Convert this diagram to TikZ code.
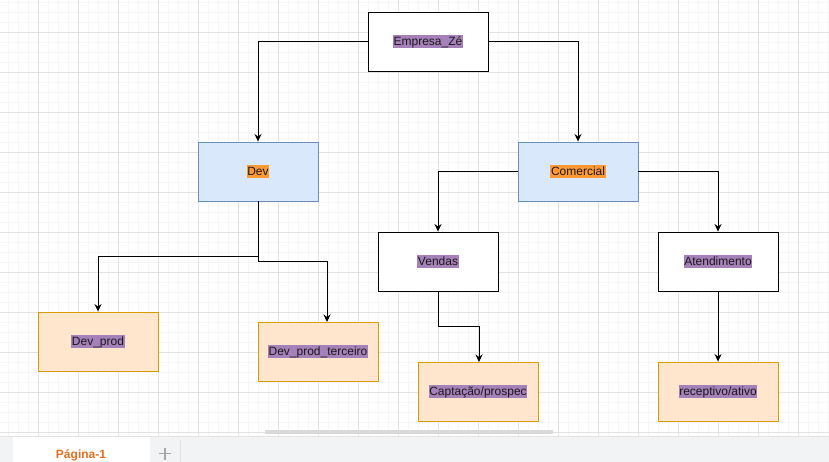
\documentclass[tikz,border=0pt]{standalone}
\usepackage{fontspec}
\setmainfont{Liberation Sans}
\usetikzlibrary{arrows.meta}
\definecolor{hlpurple}{HTML}{A680B8}
\definecolor{hlorange}{HTML}{FF9933}
\definecolor{bluefill}{HTML}{DAE8FC}
\definecolor{bluedraw}{HTML}{6C8EBF}
\definecolor{orfill}{HTML}{FFE6CC}
\definecolor{ordraw}{HTML}{D79B00}
\definecolor{gridmajor}{HTML}{E2E2E2}
\definecolor{gridminor}{HTML}{F6F6F6}
\definecolor{barbg}{HTML}{F1F3F4}
\definecolor{tabtext}{HTML}{E07020}
\definecolor{txt}{HTML}{1A1A1A}
\newcommand{\hlP}[1]{{\setlength{\fboxsep}{0.6pt}\colorbox{hlpurple}{\vphantom{Äg}#1}}}
\newcommand{\hlO}[1]{{\setlength{\fboxsep}{0.6pt}\colorbox{hlorange}{\vphantom{Äg}#1}}}
\begin{document}
\begin{tikzpicture}[x=1pt,y=-1pt,
  box/.style={draw=black, fill=white, line width=0.9pt, minimum width=120pt, minimum height=59pt, inner sep=0pt, text=txt, font=\fontsize{12}{14}\selectfont},
  bluebox/.style={box, draw=bluedraw, fill=bluefill},
  orbox/.style={box, draw=ordraw, fill=orfill},
  conn/.style={draw=black, line width=0.9pt, -{Stealth[length=7.5pt,width=7pt]}}]
\useasboundingbox (0,0) rectangle (829,462);
\fill[white] (0,0) rectangle (829,437);
% grid
\foreach \x in {8,18,...,828} \draw[gridminor, line width=0.6pt] (\x,0) -- (\x,437);
\foreach \y in {2,12,...,436} \draw[gridminor, line width=0.6pt] (0,\y) -- (829,\y);
\foreach \x in {38,78,...,828} \draw[gridmajor, line width=0.8pt] (\x,0) -- (\x,437);
\foreach \y in {32,72,...,436} \draw[gridmajor, line width=0.8pt] (0,\y) -- (829,\y);
% nodes
\node[box] (emp) at (428,41.5) {\hlP{Empresa\_Zé}};
\node[bluebox] (dev) at (258,171.5) {\hlO{Dev}};
\node[bluebox] (com) at (578,171.5) {\hlO{Comercial}};
\node[box] (ven) at (438,261.5) {\hlP{Vendas}};
\node[box] (ate) at (718,261.5) {\hlP{Atendimento}};
\node[orbox] (dp) at (98,341.5) {\hlP{Dev\_prod}};
\node[orbox] (dpt) at (318,351.5) {\hlP{Dev\_prod\_terceiro}};
\node[orbox] (cap) at (478,391.5) {\hlP{Captação/prospec}};
\node[orbox] (rec) at (718,391.5) {\hlP{receptivo/ativo}};
% connectors
\draw[conn] (emp.west) -| (dev.north);
\draw[conn] (emp.east) -| (com.north);
\draw[conn] (dev.south) |- (258,256) -| (dp.north);
\draw[conn] (dev.south) |- (327,261) -- (327,322);
\draw[conn] (com.west) -| (ven.north);
\draw[conn] (com.east) -| (ate.north);
\draw[conn] (ven.south) |- (479,326) -- (479,362);
\draw[conn] (ate.south) -- (rec.north);
% bottom bar
\fill[barbg] (0,437) rectangle (829,462);
\draw[gridmajor, line width=0.8pt] (0,436.5) -- (829,436.5);
\fill[white] (13,437) rectangle (150,462);
\draw[gridmajor, line width=0.6pt] (180,440) -- (180,462);
\fill[gray!30] (265,430) rectangle (553,434);
\node[font=\bfseries\fontsize{12}{14}\selectfont, text=tabtext, anchor=base] (tab) at (81,458.5) {Página-1};
\draw[gray!70, line width=1.8pt] (159,453.5) -- (171,453.5) (165,447.5) -- (165,459.5);
\end{tikzpicture}
\end{document}
